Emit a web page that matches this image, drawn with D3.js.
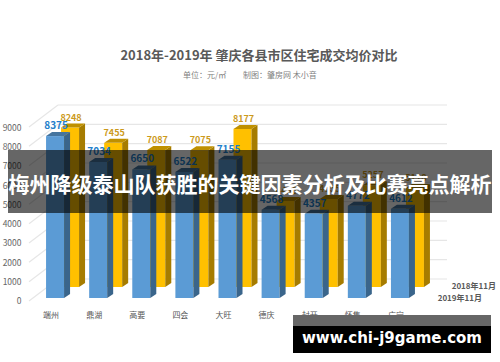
<!DOCTYPE html>
<html>
<head>
<meta charset="utf-8">
<style>
html, body { margin: 0; padding: 0; background: #fff; }
svg { display: block; }
text { font-family: "Noto Sans CJK SC", "Noto Sans", sans-serif; }
</style>
<script src="https://cdn.jsdelivr.net/npm/d3@7"></script>
</head>
<body>
<script>
var cities = ["端州", "鼎湖", "高要", "四会", "大旺", "德庆", "封开", "怀集", "广宁"];
var price2019 = [8375, 7034, 6650, 6522, 7155, 4568, 4357, 4772, 4612];
var price2018 = [8248, 7455, 7087, 7075, 8177, 4450, 4555, 5257, 5118];
var yTicks = [0, 1000, 2000, 3000, 4000, 5000, 6000, 7000, 8000, 9000];

var width = 500, height = 362;
var svg = d3.select("body").append("svg")
    .attr("width", width)
    .attr("height", height);

// value -> height above the floor
var hScale = d3.scaleLinear().domain([0, 9000]).range([0, 174]);
var xScale = d3.scaleBand().domain(cities).range([35.5, 423.5]).padding(0);

var frontBase = 298, backBase = 287;
var barW = 18, sideX = 6, sideY = 4;

// back wall gridlines and the left side wall going to the axis
var grid = svg.append("g");
yTicks.forEach(function(t) {
    var y = 279 - hScale(t);
    grid.append("line")
        .attr("x1", 58).attr("x2", 447).attr("y1", y).attr("y2", y)
        .attr("stroke", "#e6e6e6").attr("stroke-width", 1.2);
    grid.append("line")
        .attr("x1", 29).attr("x2", 58).attr("y1", y + 22).attr("y2", y)
        .attr("stroke", "#e6e6e6").attr("stroke-width", 1.2);
});

var yAxis = d3.axisLeft(d3.scaleLinear().domain([0, 9000]).range([301, 127.7]))
    .tickValues(yTicks).tickSize(0).tickFormat(d3.format("d"));
var axisG = svg.append("g").attr("transform", "translate(24.5,0)").call(yAxis);
axisG.select(".domain").remove();
axisG.selectAll("text").attr("fill", "#666").style("font-size", "8.5px");

function bars(values, dx, base, front, side, top) {
    var g = svg.append("g");
    cities.forEach(function(c, i) {
        var x = xScale(c) + xScale.bandwidth() / 2 + dx;
        var y = base - hScale(values[i]);
        g.append("rect").attr("x", x).attr("y", y).attr("width", barW).attr("height", hScale(values[i])).attr("fill", front);
        g.append("polygon").attr("points", [[x + barW, y], [x + barW + sideX, y - sideY], [x + barW + sideX, base - sideY], [x + barW, base]].join(" ")).attr("fill", side);
        g.append("polygon").attr("points", [[x, y], [x + sideX, y - sideY], [x + barW + sideX, y - sideY], [x + barW, y]].join(" ")).attr("fill", top);
    });
}
bars(price2018, 4, backBase, "#ffc000", "#a67c00", "#bf9000");
bars(price2019, -11, frontBase, "#5b9bd5", "#3a658b", "#44749f");

function valueLabels(values, dx, base, color, size) {
    svg.append("g").selectAll("text").data(values).enter().append("text")
        .attr("x", function(d, i) { return xScale(cities[i]) + xScale.bandwidth() / 2 + dx; })
        .attr("y", function(d) { return base - hScale(d) - 7; })
        .attr("text-anchor", "middle")
        .attr("fill", color)
        .style("font-size", size)
        .style("font-weight", "bold")
        .text(function(d) { return d; });
}
valueLabels(price2018, 14, backBase, "#cc9a1c", "9px");
valueLabels(price2019, -1, frontBase, "#1f7fcb", "10px");

svg.append("g").selectAll("text").data(cities).enter().append("text")
    .attr("x", function(d) { return xScale(d) + xScale.bandwidth() / 2 - 6; })
    .attr("y", 318)
    .attr("text-anchor", "middle")
    .attr("fill", "#555")
    .style("font-size", "8px")
    .text(function(d) { return d; });

svg.append("text").attr("x", 259).attr("y", 60).attr("text-anchor", "middle")
    .attr("fill", "#595959").style("font-size", "13px").style("font-weight", "bold")
    .text("2018年-2019年 肇庆各县市区住宅成交均价对比");
svg.append("text").attr("x", 183).attr("y", 78).attr("text-anchor", "start")
    .attr("fill", "#7f7f7f").style("font-size", "8px")
    .text("单位：元/㎡");
svg.append("text").attr("x", 243).attr("y", 78).attr("text-anchor", "start")
    .attr("fill", "#7f7f7f").style("font-size", "8px")
    .text("制图：肇房网 木小音");

svg.append("text").attr("x", 496).attr("y", 289).attr("text-anchor", "end")
    .attr("fill", "#595959").style("font-size", "8px").style("font-weight", "bold")
    .text("2018年11月");
svg.append("text").attr("x", 482).attr("y", 301).attr("text-anchor", "end")
    .attr("fill", "#595959").style("font-size", "8px").style("font-weight", "bold")
    .text("2019年11月");

// banner over the chart
svg.append("rect").attr("x", 8).attr("y", 150).attr("width", 484).attr("height", 63).attr("fill", "rgba(0,0,0,0.6)");
svg.append("text").attr("x", 250).attr("y", 192).attr("text-anchor", "middle")
    .attr("fill", "#fff").style("font-size", "21px").style("font-weight", "bold")
    .text("梅州降级泰山队获胜的关键因素分析及比赛亮点解析");

// site footer
svg.append("rect").attr("x", 293).attr("y", 315).attr("width", 198).attr("height", 11).attr("fill", "#666");
svg.append("rect").attr("x", 293).attr("y", 326).attr("width", 198).attr("height", 27).attr("fill", "#000");
svg.append("text").attr("x", 392).attr("y", 343).attr("text-anchor", "middle")
    .attr("fill", "#fff").style("font-family", "'DejaVu Sans', sans-serif").style("font-size", "15px").style("font-weight", "bold")
    .text("www.chi-j9game.com");
</script>
</body>
</html>
